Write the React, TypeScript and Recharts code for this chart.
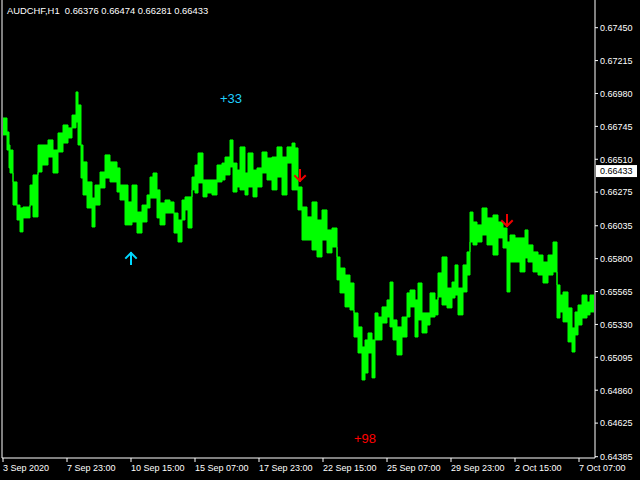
import React from "react";
import { ComposedChart, Area, XAxis, YAxis, ReferenceDot, ReferenceLine } from "recharts";

// Hour index (bars since start), bucket highs and lows
const hours = [1, 5, 7, 8, 11, 15, 18, 21, 28, 31, 36, 40, 46, 51, 56, 61, 66, 70, 74, 76, 79, 81, 85, 90, 93, 98, 103, 108, 115, 118, 123, 126, 130, 135, 140, 145, 148, 151, 155, 158, 163, 168, 172, 176, 180, 183, 186, 190, 193, 196, 201, 205, 210, 215, 220, 223, 228, 231, 235, 238, 243, 246, 251, 255, 260, 265, 270, 275, 280, 285, 290, 293, 296, 300, 305, 310, 315, 320, 325, 330, 335, 338, 343, 348, 352, 356, 360, 363, 366, 370, 373, 376, 380, 385, 388, 391, 395, 400, 405, 408, 413, 416, 420, 425, 428, 433, 436, 440, 445, 450, 453, 456, 461, 465, 468, 471, 475, 480, 485, 491, 496, 501, 505, 508, 513, 518, 523, 526, 531, 536, 541, 546, 551, 555, 558, 561, 566, 570, 573, 576, 580, 585, 588];
const highs = [0.66805, 0.66705, 0.66612, 0.66576, 0.66348, 0.66183, 0.66162, 0.66169, 0.66326, 0.66398, 0.66612, 0.66612, 0.66648, 0.66576, 0.66698, 0.66755, 0.66734, 0.66826, 0.66991, 0.66898, 0.66612, 0.66491, 0.66348, 0.66233, 0.66326, 0.66419, 0.66541, 0.66491, 0.66448, 0.66326, 0.66326, 0.66205, 0.66326, 0.66133, 0.66183, 0.66255, 0.66383, 0.66412, 0.66291, 0.66198, 0.66219, 0.66205, 0.66126, 0.66076, 0.66219, 0.66241, 0.66241, 0.66383, 0.66469, 0.66555, 0.66362, 0.66362, 0.66362, 0.66469, 0.66483, 0.66526, 0.66648, 0.66483, 0.66433, 0.66598, 0.66412, 0.66555, 0.66433, 0.66448, 0.66562, 0.66519, 0.66526, 0.66598, 0.66526, 0.66598, 0.66626, 0.66591, 0.66312, 0.66169, 0.66098, 0.66205, 0.66076, 0.66148, 0.66005, 0.66019, 0.65812, 0.65733, 0.65683, 0.65626, 0.65412, 0.65312, 0.65169, 0.65219, 0.65269, 0.65219, 0.65412, 0.65383, 0.65455, 0.65505, 0.65633, 0.65362, 0.65312, 0.65383, 0.65555, 0.65576, 0.65505, 0.65626, 0.65412, 0.65412, 0.65555, 0.65505, 0.65698, 0.65812, 0.6559, 0.65633, 0.65755, 0.6559, 0.65755, 0.65848, 0.66133, 0.66062, 0.66041, 0.66162, 0.66091, 0.66112, 0.66062, 0.66019, 0.65919, 0.65969, 0.65948, 0.65948, 0.66005, 0.65898, 0.65848, 0.65826, 0.65776, 0.65826, 0.65919, 0.65612, 0.6554, 0.65562, 0.65448, 0.65305, 0.65419, 0.65469, 0.6554, 0.6549, 0.6554];
const lows = [0.66684, 0.66576, 0.66448, 0.66412, 0.66183, 0.66076, 0.65991, 0.66091, 0.66183, 0.66098, 0.66419, 0.66469, 0.66526, 0.66412, 0.66562, 0.66626, 0.66662, 0.66734, 0.66776, 0.66612, 0.66376, 0.66255, 0.66162, 0.66026, 0.66183, 0.66305, 0.66376, 0.66348, 0.66276, 0.66219, 0.66041, 0.66041, 0.66062, 0.65983, 0.66062, 0.66162, 0.66233, 0.66233, 0.66091, 0.66041, 0.66126, 0.66126, 0.65983, 0.65919, 0.66076, 0.66148, 0.66019, 0.66291, 0.66269, 0.66341, 0.66241, 0.66269, 0.66255, 0.66348, 0.66362, 0.66398, 0.66455, 0.66276, 0.66312, 0.66291, 0.66255, 0.66312, 0.66241, 0.66312, 0.66412, 0.66362, 0.66291, 0.66383, 0.66255, 0.66483, 0.66291, 0.66291, 0.66148, 0.65933, 0.65933, 0.65862, 0.65812, 0.65933, 0.65841, 0.65883, 0.65648, 0.65555, 0.65455, 0.65433, 0.6524, 0.65126, 0.64933, 0.64983, 0.65126, 0.64948, 0.65219, 0.65219, 0.6534, 0.65383, 0.65312, 0.65219, 0.65112, 0.6524, 0.65383, 0.65455, 0.6524, 0.65362, 0.65269, 0.65326, 0.65383, 0.65398, 0.65526, 0.65469, 0.65448, 0.65519, 0.6554, 0.65398, 0.65562, 0.65683, 0.65919, 0.65898, 0.65919, 0.65969, 0.65898, 0.65826, 0.65948, 0.65876, 0.65562, 0.65776, 0.65776, 0.65705, 0.65805, 0.65776, 0.65705, 0.65683, 0.65626, 0.65683, 0.65705, 0.65376, 0.65419, 0.65348, 0.65205, 0.65133, 0.65255, 0.65326, 0.65376, 0.65398, 0.65419];
const lastHour = 592;

const xTicks = [1, 65, 129, 193, 257, 321, 385, 449, 513, 577];
const xLabels = ["3 Sep 2020", "7 Sep 23:00", "10 Sep 15:00", "15 Sep 07:00", "17 Sep 23:00", "22 Sep 15:00", "25 Sep 07:00", "29 Sep 23:00", "2 Oct 15:00", "7 Oct 07:00"];
const yTicks = [0.6745, 0.67215, 0.6698, 0.66745, 0.6651, 0.66275, 0.66035, 0.658, 0.65565, 0.6533, 0.65095, 0.6486, 0.64625, 0.64385];
const yLabels = ["0.67450", "0.67215", "0.66980", "0.66745", "0.66510", "0.66275", "0.66035", "0.65800", "0.65565", "0.65330", "0.65095", "0.64860", "0.64625", "0.64385"];
const yDomain = [0.643757, 0.676479];
const currentPrice = 0.66433;
const currentLabel = "0.66433";

const signalHours = [129, 298, 505];
const signalPrices = [0.65805, 0.66391, 0.66069];
const signalDirs = ["up", "down", "down"];

const noteHours = [229, 363];
const notePrices = [0.66948, 0.64519];
const noteTexts = ["+33", "+98"];
const noteColors = ["#1fd0ff", "#ff0000"];

const title = "AUDCHF,H1  0.66376 0.66474 0.66281 0.66433";

const rows: any[] = hours.map((h, i) => ({ hour: h, range: [lows[i], highs[i]] }));
rows.push({ hour: lastHour, range: rows[rows.length - 1].range });

const FONT = "Liberation Sans, Arial, sans-serif";

const XTick = (props: any) => {
  const { x, y, payload } = props;
  const idx = xTicks.indexOf(payload.value);
  return (
    <text x={x} y={y} dy={7} fill="#ffffff" fontSize={9} fontFamily={FONT} textAnchor="start">
      {idx >= 0 ? xLabels[idx] : ""}
    </text>
  );
};

const YTick = (props: any) => {
  const { x, y, payload } = props;
  const idx = yTicks.indexOf(payload.value);
  return (
    <text x={x} y={y} dy={3.3} fill="#ffffff" fontSize={9} fontFamily={FONT} textAnchor="start">
      {idx >= 0 ? yLabels[idx] : ""}
    </text>
  );
};

const PriceBox = (props: any) => {
  const vb = props.viewBox || {};
  const x = vb.x + vb.width + 1;
  const y = vb.y;
  return (
    <g>
      <rect x={x} y={y - 5} width={41} height={12} fill="#ffffff" />
      <text x={x + 4} y={y + 4.3} fill="#000000" fontSize={9} fontFamily={FONT}>
        {currentLabel}
      </text>
    </g>
  );
};

const ArrowShape = (dir: string) => (props: any) => {
  const { cx, cy } = props;
  if (dir === "up") {
    return (
      <g stroke="#00d8ff" strokeWidth={2} fill="none" strokeLinecap="square">
        <line x1={cx} y1={cy - 5} x2={cx} y2={cy + 6} />
        <polyline points={`${cx - 5},${cy} ${cx},${cy - 5} ${cx + 5},${cy}`} />
      </g>
    );
  }
  return (
    <g stroke="#ee0000" strokeWidth={2} fill="none" strokeLinecap="square">
      <line x1={cx} y1={cy - 6} x2={cx} y2={cy + 5} />
      <polyline points={`${cx - 5},${cy} ${cx},${cy + 5} ${cx + 5},${cy}`} />
    </g>
  );
};

const NoteShape = (text: string, color: string) => (props: any) => {
  const { cx, cy } = props;
  return (
    <text x={cx} y={cy} dy={4.7} fill={color} fontSize={13} fontFamily={FONT} textAnchor="middle">
      {text}
    </text>
  );
};

export default function App() {
  return (
    <div style={{ position: "fixed", left: 0, top: 0, width: 640, height: 480, background: "#000000" }}>
      <ComposedChart width={640} height={480} data={rows} margin={{ top: 0, right: 0, bottom: 0, left: 0 }}>
        <XAxis
          dataKey="hour"
          type="number"
          domain={[0, 593]}
          ticks={xTicks}
          tick={<XTick />}
          tickSize={4}
          tickMargin={2}
          height={22}
          stroke="#ffffff"
          interval={0}
          allowDataOverflow
        />
        <YAxis
          yAxisId="frame"
          orientation="left"
          width={2}
          tick={false}
          tickLine={false}
          stroke="#ffffff"
        />
        <YAxis
          yAxisId="price"
          orientation="right"
          domain={yDomain}
          ticks={yTicks}
          tick={<YTick />}
          tickSize={3}
          tickMargin={2}
          width={45}
          stroke="#ffffff"
          interval={0}
          allowDataOverflow
        />
        <Area
          yAxisId="price"
          type="stepAfter"
          dataKey="range"
          stroke="#00ff00"
          strokeWidth={1}
          fill="#00ff00"
          fillOpacity={1}
          dot={false}
          activeDot={false}
          isAnimationActive={false}
        />
        <ReferenceLine yAxisId="price" y={currentPrice} stroke="none" label={<PriceBox />} />
        {signalHours.map((h, i) => (
          <ReferenceDot
            key={"s" + i}
            yAxisId="price"
            x={h}
            y={signalPrices[i]}
            r={6}
            shape={ArrowShape(signalDirs[i])}
          />
        ))}
        {noteHours.map((h, i) => (
          <ReferenceDot
            key={"n" + i}
            yAxisId="price"
            x={h}
            y={notePrices[i]}
            r={6}
            shape={NoteShape(noteTexts[i], noteColors[i])}
          />
        ))}
      </ComposedChart>
      <div
        style={{
          position: "absolute",
          left: 7,
          top: 4,
          color: "#ffffff",
          fontFamily: FONT,
          fontSize: 9.4,
          whiteSpace: "pre",
          lineHeight: "14px",
        }}
      >
        {title}
      </div>
    </div>
  );
}
